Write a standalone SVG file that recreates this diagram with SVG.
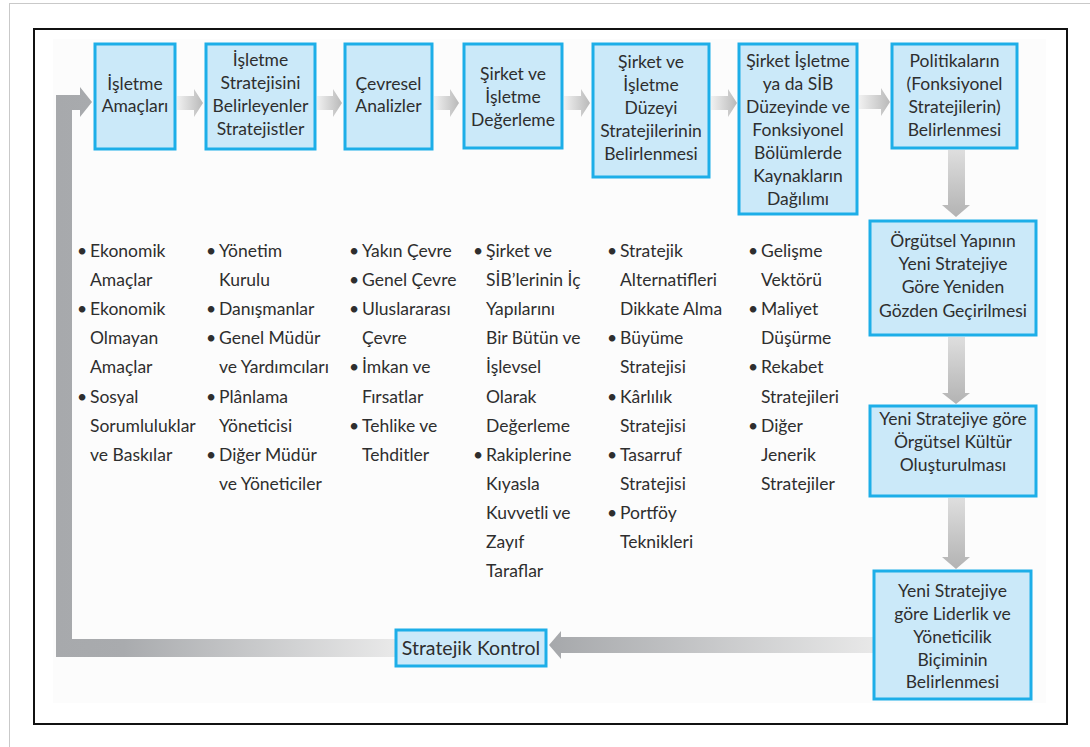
<svg xmlns="http://www.w3.org/2000/svg" width="1090" height="747" viewBox="0 0 1090 747">
  <style>
    .box { fill: #cbe9f9; stroke: #1daee8; stroke-width: 3; }
    .lbl { font-family: Lato, "Open Sans", "DejaVu Sans", sans-serif; font-size: 17.5px; fill: #2e2e2e; text-anchor: middle; }
    .lst { font-family: Lato, "Open Sans", "DejaVu Sans", sans-serif; font-size: 17.5px; fill: #2e2e2e; }
    .big { font-size: 19.5px; }
  </style>
  <defs>
    <linearGradient id="gRight" x1="0" y1="0" x2="1" y2="0">
      <stop offset="0" stop-color="#f1f1f1"/>
      <stop offset="1" stop-color="#b9b9b9"/>
    </linearGradient>
    <linearGradient id="gDown" x1="0" y1="0" x2="0" y2="1">
      <stop offset="0" stop-color="#dedede"/>
      <stop offset="1" stop-color="#b3b3b3"/>
    </linearGradient>
    <linearGradient id="gLeft" x1="0" y1="0" x2="1" y2="0">
      <stop offset="0" stop-color="#a6a8ab"/>
      <stop offset="1" stop-color="#e8e8e8"/>
    </linearGradient>
    <linearGradient id="gLoop" gradientUnits="userSpaceOnUse" x1="56" y1="0" x2="395" y2="0">
      <stop offset="0" stop-color="#a7a9ac"/>
      <stop offset="0.2" stop-color="#a9abae"/>
      <stop offset="1" stop-color="#e9e9e9"/>
    </linearGradient>
  </defs>

  <!-- page frame -->
  <rect x="9.5" y="3.5" width="1100" height="760" fill="#ffffff" stroke="#c9c9c9" stroke-width="1"/>
  <rect x="34" y="29" width="1033" height="695" fill="#ffffff" stroke="#111111" stroke-width="2"/>
  <rect x="53" y="39" width="993" height="664" fill="#fcfcfc"/>

  <!-- connectors -->
  <g id="connectors">
    <path d="M177,96 H194 V89 L203,103 L194,117 V110 H177 Z" fill="url(#gRight)"/>
    <path d="M317,96 H333 V89 L342,103 L333,117 V110 H317 Z" fill="url(#gRight)"/>
    <path d="M434,96 H450 V89 L459,103 L450,117 V110 H434 Z" fill="url(#gRight)"/>
    <path d="M564,96 H581 V89 L590,103 L581,117 V110 H564 Z" fill="url(#gRight)"/>
    <path d="M711,96 H728 V89 L737,103 L728,117 V110 H711 Z" fill="url(#gRight)"/>
    <path d="M859,95 H881 V88 L890,102 L881,116 V109 H859 Z" fill="url(#gRight)"/>
    <path d="M948,150 V205 H942 L956,217 L970,205 H965 V150 Z" fill="url(#gDown)"/>
    <path d="M948,337 V393 H942 L956,404 L970,393 H965 V337 Z" fill="url(#gDown)"/>
    <path d="M948,498 V557 H942 L956,569 L970,557 H965 V498 Z" fill="url(#gDown)"/>
    <path d="M873,637 H561 V631 L549,645 L561,659 V653 H873 Z" fill="url(#gLeft)"/>
    <path d="M92,102 L80,87 V95 H56 V657 H395 V639 H72 V110 H80 V117 Z" fill="url(#gLoop)"/>
  </g>

  <g id="n-isletme-amaclari">
    <rect class="box" x="95" y="44" width="80" height="105"/>
    <text class="lbl"><tspan x="135" y="90">İşletme</tspan><tspan x="135" y="112">Amaçları</tspan></text>
  </g>
  <g id="n-stratejistler">
    <rect class="box" x="206" y="44" width="109" height="105"/>
    <text class="lbl"><tspan x="260.5" y="66">İşletme</tspan><tspan x="260.5" y="89">Stratejisini</tspan><tspan x="260.5" y="112">Belirleyenler</tspan><tspan x="260.5" y="135">Stratejistler</tspan></text>
  </g>
  <g id="n-cevresel">
    <rect class="box" x="345" y="44" width="87" height="105"/>
    <text class="lbl"><tspan x="388.5" y="90">Çevresel</tspan><tspan x="388.5" y="112">Analizler</tspan></text>
  </g>
  <g id="n-degerleme">
    <rect class="box" x="464" y="44" width="98" height="104"/>
    <text class="lbl"><tspan x="513" y="80">Şirket ve</tspan><tspan x="513" y="103">İşletme</tspan><tspan x="513" y="126">Değerleme</tspan></text>
  </g>
  <g id="n-duzey">
    <rect class="box" x="593" y="44" width="116" height="133"/>
    <text class="lbl"><tspan x="651" y="68">Şirket ve</tspan><tspan x="651" y="91">İşletme</tspan><tspan x="651" y="114">Düzeyi</tspan><tspan x="651" y="137">Stratejilerinin</tspan><tspan x="651" y="160">Belirlenmesi</tspan></text>
  </g>
  <g id="n-kaynak">
    <rect class="box" x="739" y="44" width="118" height="170"/>
    <text class="lbl"><tspan x="798" y="67">Şirket İşletme</tspan><tspan x="798" y="90">ya da SİB</tspan><tspan x="798" y="113">Düzeyinde ve</tspan><tspan x="798" y="136">Fonksiyonel</tspan><tspan x="798" y="159">Bölümlerde</tspan><tspan x="798" y="182">Kaynakların</tspan><tspan x="798" y="205">Dağılımı</tspan></text>
  </g>
  <g id="n-politika">
    <rect class="box" x="892" y="44" width="125" height="104"/>
    <text class="lbl"><tspan x="954.5" y="67">Politikaların</tspan><tspan x="954.5" y="90">(Fonksiyonel</tspan><tspan x="954.5" y="113">Stratejilerin)</tspan><tspan x="954.5" y="136">Belirlenmesi</tspan></text>
  </g>
  <g id="n-yapi">
    <rect class="box" x="870" y="221" width="166" height="114"/>
    <text class="lbl"><tspan x="953" y="247">Örgütsel Yapının</tspan><tspan x="953" y="270">Yeni Stratejiye</tspan><tspan x="953" y="293">Göre Yeniden</tspan><tspan x="953" y="317">Gözden Geçirilmesi</tspan></text>
  </g>
  <g id="n-kultur">
    <rect class="box" x="870" y="406" width="166" height="90"/>
    <text class="lbl"><tspan x="953" y="425">Yeni Stratejiye göre</tspan><tspan x="953" y="448">Örgütsel Kültür</tspan><tspan x="953" y="471">Oluşturulması</tspan></text>
  </g>
  <g id="n-liderlik">
    <rect class="box" x="874" y="571" width="157" height="128"/>
    <text class="lbl"><tspan x="952.5" y="597">Yeni Stratejiye</tspan><tspan x="952.5" y="620">göre Liderlik ve</tspan><tspan x="952.5" y="643">Yöneticilik</tspan><tspan x="952.5" y="666">Biçiminin</tspan><tspan x="952.5" y="688">Belirlenmesi</tspan></text>
  </g>
  <g id="n-kontrol">
    <rect class="box" x="396" y="630" width="150" height="36"/>
    <text class="lbl big" x="471" y="655">Stratejik Kontrol</text>
  </g>

  <!-- bullet lists under the top row -->
  <g id="list-amaclar">
    <text class="lst"><tspan x="77" y="257">•</tspan><tspan x="77" y="315">•</tspan><tspan x="77" y="403">•</tspan></text>
    <text class="lst"><tspan x="90" y="257">Ekonomik</tspan><tspan x="90" y="286">Amaçlar</tspan><tspan x="90" y="315">Ekonomik</tspan><tspan x="90" y="344">Olmayan</tspan><tspan x="90" y="373">Amaçlar</tspan><tspan x="90" y="403">Sosyal</tspan><tspan x="90" y="432">Sorumluluklar</tspan><tspan x="90" y="461">ve Baskılar</tspan></text>
  </g>
  <g id="list-stratejistler">
    <text class="lst"><tspan x="206" y="257">•</tspan><tspan x="206" y="315">•</tspan><tspan x="206" y="344">•</tspan><tspan x="206" y="403">•</tspan><tspan x="206" y="461">•</tspan></text>
    <text class="lst"><tspan x="219" y="257">Yönetim</tspan><tspan x="219" y="286">Kurulu</tspan><tspan x="219" y="315">Danışmanlar</tspan><tspan x="219" y="344">Genel Müdür</tspan><tspan x="219" y="373">ve Yardımcıları</tspan><tspan x="219" y="403">Plânlama</tspan><tspan x="219" y="432">Yöneticisi</tspan><tspan x="219" y="461">Diğer Müdür</tspan><tspan x="219" y="490">ve Yöneticiler</tspan></text>
  </g>
  <g id="list-cevre">
    <text class="lst"><tspan x="349" y="257">•</tspan><tspan x="349" y="286">•</tspan><tspan x="349" y="315">•</tspan><tspan x="349" y="373">•</tspan><tspan x="349" y="432">•</tspan></text>
    <text class="lst"><tspan x="362" y="257">Yakın Çevre</tspan><tspan x="362" y="286">Genel Çevre</tspan><tspan x="362" y="315">Uluslararası</tspan><tspan x="362" y="344">Çevre</tspan><tspan x="362" y="373">İmkan ve</tspan><tspan x="362" y="403">Fırsatlar</tspan><tspan x="362" y="432">Tehlike ve</tspan><tspan x="362" y="461">Tehditler</tspan></text>
  </g>
  <g id="list-degerleme">
    <text class="lst"><tspan x="473" y="257">•</tspan><tspan x="473" y="461">•</tspan></text>
    <text class="lst"><tspan x="486" y="257">Şirket ve</tspan><tspan x="486" y="286">SİB’lerinin İç</tspan><tspan x="486" y="315">Yapılarını</tspan><tspan x="486" y="344">Bir Bütün ve</tspan><tspan x="486" y="373">İşlevsel</tspan><tspan x="486" y="403">Olarak</tspan><tspan x="486" y="432">Değerleme</tspan><tspan x="486" y="461">Rakiplerine</tspan><tspan x="486" y="490">Kıyasla</tspan><tspan x="486" y="519">Kuvvetli ve</tspan><tspan x="486" y="548">Zayıf</tspan><tspan x="486" y="577">Taraflar</tspan></text>
  </g>
  <g id="list-duzey">
    <text class="lst"><tspan x="607" y="257">•</tspan><tspan x="607" y="344">•</tspan><tspan x="607" y="403">•</tspan><tspan x="607" y="461">•</tspan><tspan x="607" y="519">•</tspan></text>
    <text class="lst"><tspan x="620" y="257">Stratejik</tspan><tspan x="620" y="286">Alternatifleri</tspan><tspan x="620" y="315">Dikkate Alma</tspan><tspan x="620" y="344">Büyüme</tspan><tspan x="620" y="373">Stratejisi</tspan><tspan x="620" y="403">Kârlılık</tspan><tspan x="620" y="432">Stratejisi</tspan><tspan x="620" y="461">Tasarruf</tspan><tspan x="620" y="490">Stratejisi</tspan><tspan x="620" y="519">Portföy</tspan><tspan x="620" y="548">Teknikleri</tspan></text>
  </g>
  <g id="list-kaynak">
    <text class="lst"><tspan x="748" y="257">•</tspan><tspan x="748" y="315">•</tspan><tspan x="748" y="373">•</tspan><tspan x="748" y="432">•</tspan></text>
    <text class="lst"><tspan x="761" y="257">Gelişme</tspan><tspan x="761" y="286">Vektörü</tspan><tspan x="761" y="315">Maliyet</tspan><tspan x="761" y="344">Düşürme</tspan><tspan x="761" y="373">Rekabet</tspan><tspan x="761" y="403">Stratejileri</tspan><tspan x="761" y="432">Diğer</tspan><tspan x="761" y="461">Jenerik</tspan><tspan x="761" y="490">Stratejiler</tspan></text>
  </g>
</svg>
